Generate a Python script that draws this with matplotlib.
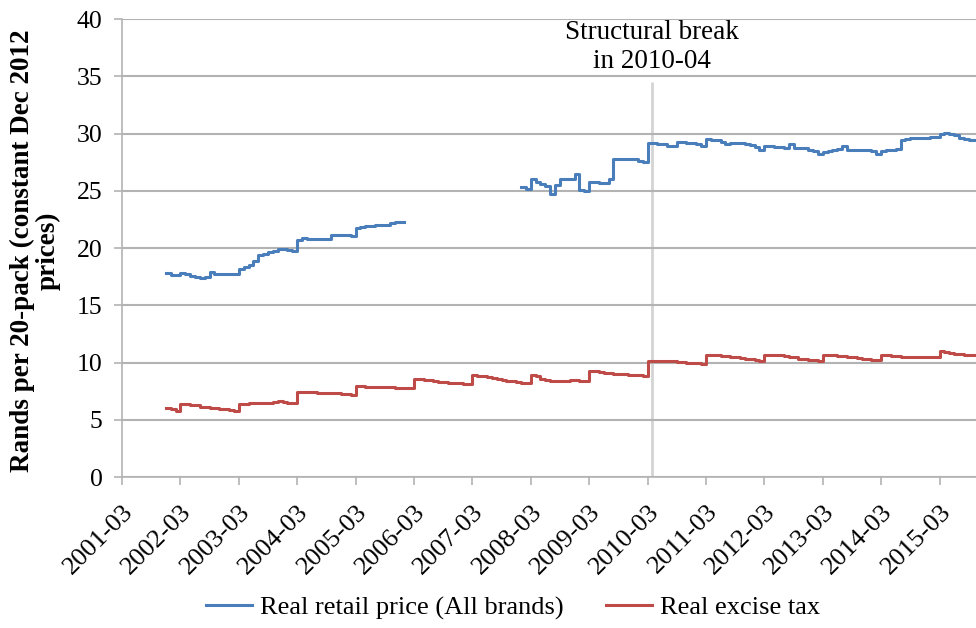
import numpy as np
import matplotlib
matplotlib.use("Agg")
import matplotlib.pyplot as plt

# Month index 0 = 2001-03
tick_labels = ["2001-03", "2002-03", "2003-03", "2004-03", "2005-03", "2006-03",
               "2007-03", "2008-03", "2009-03", "2010-03", "2011-03", "2012-03",
               "2013-03", "2014-03", "2015-03"]

retail_a_start = 9
retail_a = [17.8, 17.65, 17.65, 17.8, 17.7, 17.6, 17.5, 17.35, 17.5, 17.95,
            17.75, 17.7, 17.75, 17.7, 17.7, 18.2, 18.35, 18.5, 18.9, 19.4,
            19.5, 19.65, 19.75, 19.9, 19.9, 19.8, 19.75, 20.7, 20.85, 20.8,
            20.8, 20.8, 20.8, 20.75, 21.1, 21.1, 21.15, 21.1, 21.05, 21.75,
            21.85, 21.9, 21.95, 22.0, 22.05, 22.0, 22.2, 22.25, 22.3, 22.3]

retail_b_start = 82
retail_b = [25.3, 25.15, 26.05, 25.8, 25.55, 25.4, 24.7, 25.5, 26.0, 26.05,
            26.05, 26.5, 25.05, 25.0, 25.8, 25.75, 25.7, 25.65, 26.05, 27.75,
            27.8, 27.8, 27.8, 27.75, 27.6, 27.5,
            29.15, 29.15, 29.1, 29.1, 28.95, 28.95, 29.3, 29.25, 29.2, 29.15,
            29.1, 28.95, 29.5, 29.45, 29.4, 29.3, 29.1, 29.15, 29.2, 29.15,
            29.05, 29.0, 28.85, 28.55, 28.9, 28.9, 28.85, 28.85, 28.7, 29.05,
            28.75, 28.75, 28.7, 28.6, 28.5, 28.25, 28.4, 28.5, 28.6, 28.65,
            28.9, 28.6, 28.6, 28.6, 28.6, 28.55, 28.5, 28.2, 28.5, 28.55,
            28.55, 28.65, 29.45, 29.55, 29.6, 29.65, 29.6, 29.6, 29.7, 29.7,
            30.0, 30.05, 29.95, 29.85, 29.6, 29.5, 29.45, 29.4]

excise_start = 9
excise = [6.0, 5.9, 5.8, 6.4, 6.35, 6.3, 6.25, 6.15, 6.1, 6.05, 6.0, 5.95,
          5.9, 5.85, 5.8, 6.4, 6.4, 6.45, 6.45, 6.45, 6.45, 6.5, 6.55, 6.6,
          6.55, 6.5, 6.45, 7.45, 7.45, 7.4, 7.4, 7.35, 7.35, 7.3, 7.3, 7.3,
          7.25, 7.25, 7.2, 7.95, 7.95, 7.9, 7.9, 7.9, 7.85, 7.85, 7.85, 7.8,
          7.8, 7.8, 7.8,
          8.6, 8.55, 8.5, 8.45, 8.35, 8.3, 8.3, 8.25, 8.25, 8.2, 8.15, 8.1,
          8.9, 8.85, 8.8, 8.75, 8.65, 8.55, 8.5, 8.4, 8.35, 8.3, 8.25, 8.2,
          8.9, 8.8, 8.6, 8.45, 8.4, 8.4, 8.4, 8.4, 8.45, 8.45, 8.4, 8.35,
          9.25, 9.25, 9.2, 9.1, 9.05, 9.0, 9.0, 9.0, 8.95, 8.9, 8.9, 8.85,
          10.15, 10.15, 10.15, 10.15, 10.1, 10.1, 10.05, 10.05, 10.0, 10.0, 9.95, 9.9,
          10.7, 10.7, 10.65, 10.6, 10.55, 10.5, 10.45, 10.4, 10.35, 10.3, 10.2, 10.15,
          10.7, 10.7, 10.65, 10.65, 10.6, 10.5, 10.45, 10.35, 10.3, 10.25, 10.2, 10.15,
          10.7, 10.7, 10.65, 10.6, 10.55, 10.5, 10.45, 10.4, 10.35, 10.3, 10.25, 10.2,
          10.7, 10.65, 10.6, 10.55, 10.5, 10.5, 10.5, 10.5, 10.5, 10.5, 10.5, 10.5,
          11.05, 10.95, 10.85, 10.75, 10.75, 10.7, 10.7, 10.7]

break_month = 109  # 2010-04
break_label = "Structural break\nin 2010-04"
series_names = ["Real retail price (All brands)", "Real excise tax"]
ylabel = "Rands per 20-pack (constant Dec 2012\nprices)"

plt.rcParams['font.family'] = ['Liberation Serif', 'DejaVu Serif']

fig = plt.figure(figsize=(9.76, 6.28), dpi=100)
ax = fig.add_axes([0.125, 0.2404, 0.875, 0.7293])

blue = "#4A7EBB"
red = "#BE4B48"

xa = np.arange(retail_a_start, retail_a_start + len(retail_a))
xb = np.arange(retail_b_start, retail_b_start + len(retail_b))
xe = np.arange(excise_start, excise_start + len(excise))

ax.plot(xa, retail_a, color=blue, lw=2.2, drawstyle='steps-post', label=series_names[0])
ax.plot(xb, retail_b, color=blue, lw=2.2, drawstyle='steps-post')
ax.plot(xe, excise, color=red, lw=2.2, drawstyle='steps-post', label=series_names[1])

ax.vlines(break_month, 0, 34.5, color="#d4d4d4", lw=2.0, zorder=0.5)
ax.text(break_month, 37.55, break_label, ha='center', va='center', fontsize=19.5,
        linespacing=1.2, clip_on=False)

ax.set_xlim(0, 175.5)
ax.set_ylim(0, 40)
ax.set_yticks(np.arange(0, 41, 5))
ax.set_xticks(np.arange(0, 12 * len(tick_labels), 12))
ax.set_xticklabels(tick_labels, rotation=45, ha='right', rotation_mode='anchor')

ax.grid(axis='y', color="#b3b3b3", lw=1.5)
ax.set_axisbelow(True)
for s in ['top', 'right']:
    ax.spines[s].set_visible(False)
for s in ['left', 'bottom']:
    ax.spines[s].set_color("#b3b3b3")
    ax.spines[s].set_linewidth(1.2)
ax.tick_params(axis='both', colors="#b3b3b3", labelcolor='black', labelsize=19,
               length=6, width=1.2)
ax.tick_params(axis='y', pad=8, labelsize=18.5)
ax.tick_params(axis='x', pad=11)

fig.text(0.036, 0.6, ylabel, rotation=90, ha='center', va='center',
         fontsize=19.5, fontweight='bold', multialignment='center', linespacing=1.0)

fig.legend(loc='center', bbox_to_anchor=(0.526, 0.032), ncol=2, frameon=False,
           fontsize=19, handlelength=1.75, columnspacing=1.6, handletextpad=0.3)

fig.savefig("out.png", dpi=100)
